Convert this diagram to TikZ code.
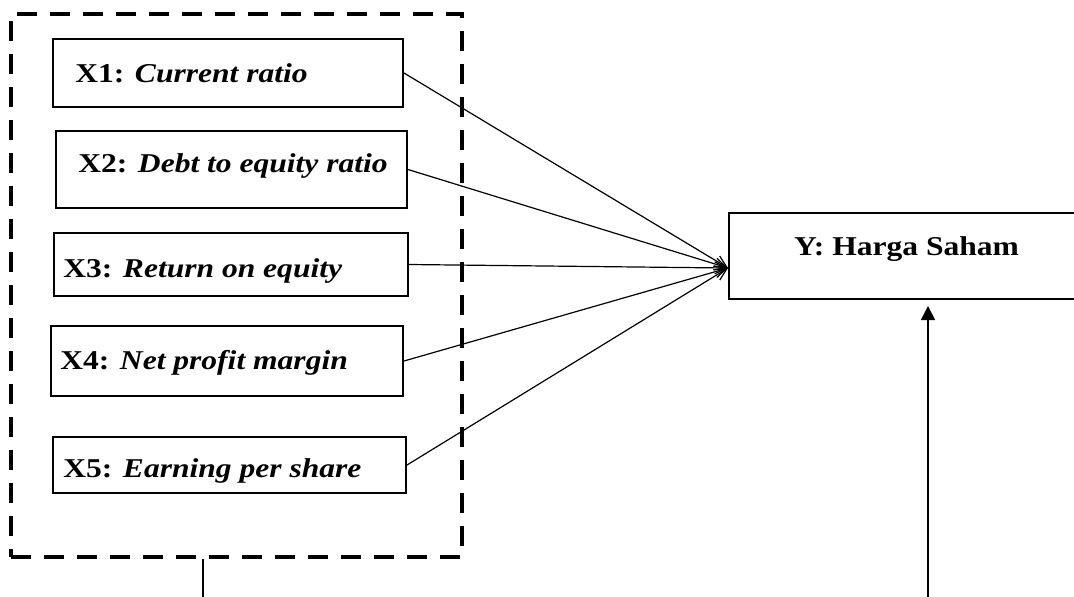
\documentclass[tikz,border=0pt]{standalone}
\usepackage{graphicx}
\usepackage{fontspec}
\setmainfont{Liberation Serif}
\usetikzlibrary{arrows.meta}
\newcommand{\widetxt}[1]{\scalebox{1.16}[1]{#1}}

\begin{document}
\begin{tikzpicture}[x=0.5pt, y=-0.5pt,
        varbox/.style={draw, line width=1pt, inner sep=0pt},
        vartxt/.style={anchor=base west, inner sep=0pt, font=\fontsize{13.6}{16}\selectfont\bfseries},
        grpbox/.style={draw, line width=2pt, dash pattern=on 10pt off 6.5pt, inner sep=0pt, minimum width=225.5pt, minimum height=271.5pt},
        arr/.style={-{Straight Barb[length=6pt, width=6pt]}, line width=0.6pt},
        uparr/.style={-{Triangle[length=7pt, width=7pt]}, line width=0.8pt}]
      \useasboundingbox (0,0) rectangle (1074,596);
      % independent variables
      \node[grpbox] (grp) at (236.5,285.5) {};
      \node[varbox, minimum width=175pt, minimum height=34pt] (x1) at (228,73) {};
      \node[varbox, minimum width=175.5pt, minimum height=38.5pt] (x2) at (231.5,169.5) {};
      \node[varbox, minimum width=177pt, minimum height=31.5pt] (x3) at (231,264.5) {};
      \node[varbox, minimum width=176pt, minimum height=35pt] (x4) at (227,361) {};
      \node[varbox, minimum width=176.5pt, minimum height=28pt] (x5) at (229.5,465) {};
      \node[vartxt] (x1t) at (75,82) {\widetxt{X1: \textit{Current ratio}}};
      \node[vartxt] (x2t) at (78,172) {\widetxt{X2: \textit{Debt to equity ratio}}};
      \node[vartxt] (x3t) at (63,277) {\widetxt{X3: \textit{Return on equity}}};
      \node[vartxt] (x4t) at (60,369) {\widetxt{X4: \textit{Net profit margin}}};
      \node[vartxt] (x5t) at (63,477) {\widetxt{X5: \textit{Earning per share}}};
      % dependent variable
      \node[varbox, minimum width=178pt, minimum height=43pt] (y) at (907,256) {};
      \node[vartxt, anchor=base] (yt) at (906.5,255) {\widetxt{Y: Harga Saham}};
      \coordinate (yin) at (728,268);
      \foreach \i in {1,...,5}
        \draw[arr] (x\i.east) -- (yin);
      % joint effect
      \coordinate (lo) at (203,600);
      \coordinate (ro) at (928,600);
      \draw[line width=0.6pt] (grp.south -| lo) -- (lo);
      \draw[uparr, shorten >=3pt] (ro) -- (ro |- y.south);
    \end{tikzpicture}
\end{document}
